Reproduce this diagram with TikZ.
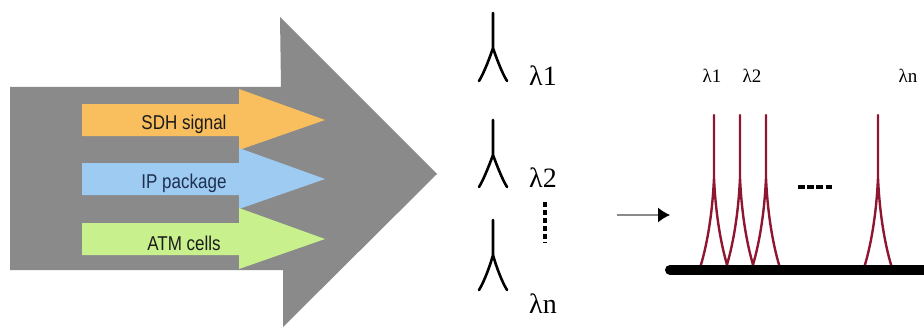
\documentclass[tikz,border=0pt]{standalone}
\usepackage{fontspec}
\usepackage{tikz}
\usetikzlibrary{arrows.meta}
\newfontfamily\tagfont[FakeStretch=0.85]{Liberation Sans}
\newfontfamily\lamfont{Liberation Serif}
\definecolor{Grey}{HTML}{8A8A8A}
\definecolor{Orange}{HTML}{F9BF5E}
\definecolor{SkyBlue}{HTML}{9DCBF2}
\definecolor{LightGreen}{HTML}{C8F08C}
\definecolor{DarkText}{HTML}{1B1B1B}
\definecolor{Navy}{HTML}{1F2F4F}
\definecolor{Wine}{HTML}{8E1630}
\tikzset{
  tag/.style={font=\tagfont\fontsize{20}{20}\selectfont, inner sep=0pt},
  lam/.style={font=\lamfont\fontsize{28}{28}\selectfont, inner sep=0pt, anchor=base west},
  smalllam/.style={font=\lamfont\fontsize{19}{19}\selectfont, inner sep=0pt, anchor=base},
  sym/.style={line width=2.6pt, line cap=round},
  peak/.style={draw=Wine, line width=2.4pt, line cap=round},
  arr/.style={-{Latex[length=12pt,width=15pt,color=black]}, draw=Grey, line width=1.2pt}
}
\begin{document}
\begin{tikzpicture}[x=1pt,y=-1pt]
\useasboundingbox (0,0) rectangle (924,329);
\fill[Grey] (10,87) -- (281,87) -- (280,17) -- (437,174) -- (283,327) -- (283,270) -- (10,270) -- cycle;
\foreach \c/\col/\ink/\txt/\nm in {120/Orange/DarkText/SDH signal/sdh, 179/SkyBlue/Navy/IP package/ip, 239/LightGreen/DarkText/ATM cells/atm}{
  \fill[\col] (82,\c-16) -- (239,\c-16) -- (239,\c-31) -- (325,\c) -- (239,\c+30) -- (239,\c+16) -- (82,\c+16) -- cycle;
  \node[tag, text=\ink] (\nm) at (184,\c+4) {\txt};
}
\foreach \t/\b/\base/\ch/\nm in {13/81/85/1/lam1, 120/187/187/2/lam2, 220/290/313/n/lamn}{
  \draw[sym] (479,\b) .. controls (484,\b-8) and (490,\b-24) .. (493,\t+35) -- (493,\t)
             (507,\b) .. controls (502,\b-8) and (496,\b-24) .. (493,\t+35);
  \node[lam] (\nm) at (529,\base) {λ\ch};
}
\draw[line width=3.4pt, dash pattern=on 5pt off 3pt] (545,202) -- (545,243);
\coordinate (from) at (617,215);
\coordinate (to) at (670,215);
\draw[arr] (from) -- (to);
\foreach \p in {714,740,766,878}{
  \draw[peak] (\p-14,268) .. controls (\p-9,252) and (\p-2,222) .. (\p,178) -- (\p,115)
              (\p+14,268) .. controls (\p+9,252) and (\p+2,222) .. (\p,178);
}
\draw[line width=10pt, line cap=round] (670,270) -- (930,270);
\draw[line width=4pt, dash pattern=on 6.5pt off 2.7pt] (798,187) -- (832,187);
\node[smalllam] (top1) at (712,83) {λ1};
\node[smalllam] (top2) at (752,83) {λ2};
\node[smalllam] (topn) at (908,83) {λn};
\end{tikzpicture}
\end{document}
